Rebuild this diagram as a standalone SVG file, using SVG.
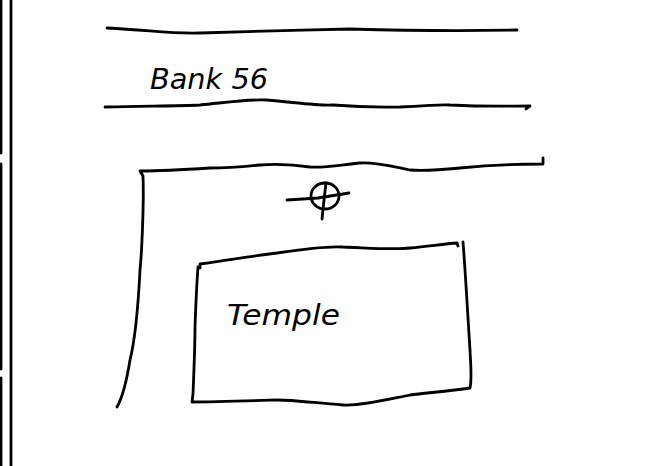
<svg xmlns="http://www.w3.org/2000/svg" width="672" height="466" viewBox="0 0 672 466">
<style>
.s{fill:none;stroke:#000;stroke-width:2.8;stroke-linecap:round;stroke-linejoin:round}
.t{font-family:"DejaVu Sans","Liberation Sans",sans-serif;font-style:oblique;fill:#000}
</style>
<rect width="672" height="466" fill="#fff"/>
<g id="frame">
<path class="s" d="M1 0V153M1 164V369M1 378V466" stroke-width="1.5"/>
<path class="s" d="M11 0V466" stroke-width="3"/>
</g>
<g id="bank">
<path class="s" d="M107 28 C150 30 170 34 200 33 C260 31 300 30 350 29 C420 31 470 31 517 30"/>
<path class="s" d="M105 107 C150 106 180 106 200 105 C230 102 250 99 267 100 C300 103 320 106 333 105 C370 108 390 107 400 107 C430 106 440 104 450 105 C490 107 510 106 530 106 L526 109"/>
<text class="t" x="150" y="89" font-size="28" textLength="118" lengthAdjust="spacingAndGlyphs">Bank 56</text>
</g>
<g id="site">
<path class="s" d="M543 158 L543 164 C520 164 480 166 460 168 C440 170 420 171 410 170 C390 166 375 162 360 163 C340 165 325 168 310 167 C290 164 275 164 260 165 C240 167 225 168 210 168 C180 170 160 171 140 171 L143 176 C144 200 142 250 140 270 C138 310 135 340 130 360 C126 385 121 400 117 407"/>
<ellipse class="s" cx="325" cy="196" rx="14" ry="13" stroke-width="3"/>
<path class="s" d="M287 200 L318 198 L349 193"/>
<path class="s" d="M326 183 L324 200 L322 219"/>
</g>
<g id="temple">
<path class="s" d="M200 268 L200 264 C240 258 260 255 277 253 C310 248 330 246 343 247 C370 248 395 250 410 248 C430 246 445 244 457 243 L458 246"/>
<path class="s" d="M463 242 C466 280 468 320 470 350 C471 370 472 380 470 388 C450 391 425 393 410 395 C385 400 360 406 343 405 C315 403 295 400 277 400 C245 401 215 402 192 402 L193 394 C194 370 195 345 195 327 C196 300 197 280 198 267"/>
<text class="t" x="227" y="325" font-size="28" textLength="113" lengthAdjust="spacingAndGlyphs">Temple</text>
</g>
</svg>
